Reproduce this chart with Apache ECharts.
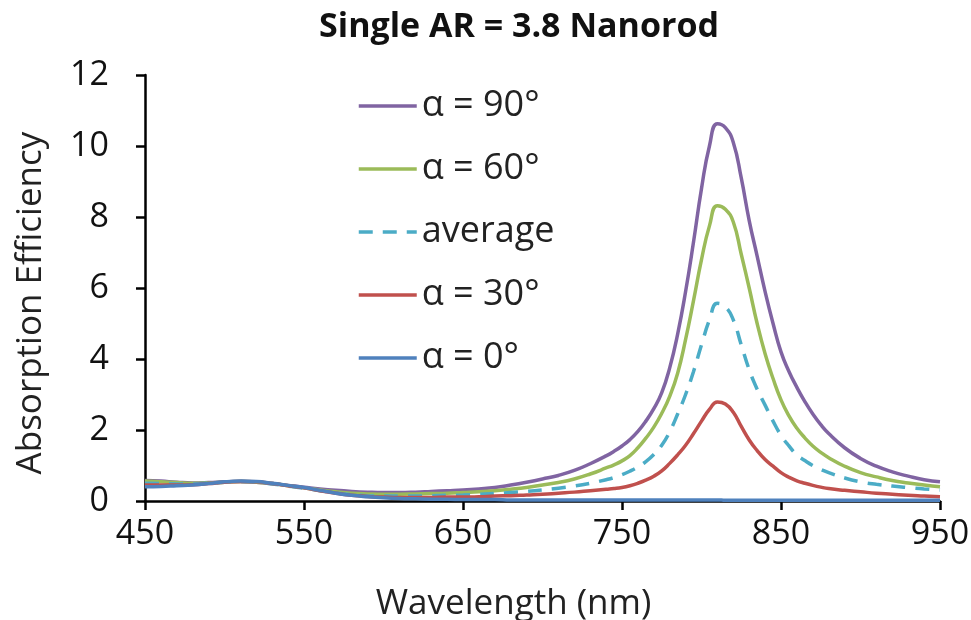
<!DOCTYPE html>
<html>
<head>
<meta charset="utf-8">
<script src="https://cdn.jsdelivr.net/npm/echarts@6/dist/echarts.min.js"></script>
<style>html,body{margin:0;padding:0;background:#fff}#c{width:971px;height:620px}</style>
</head>
<body>
<div id="c"></div>
<script>
const wavelengths = [450,460,470,480,490,500,510,520,530,540,550,560,570,580,590,600,610,620,630,640,650,660,670,680,690,700,710,720,730,740,
  745,750,755,760,765,770,775,780,785,790,795,800,805,810,815,820,825,830,835,840,845,850,855,860,865,870,875,880,
  890,900,910,920,930,940,950];
const alpha90 = [0.58,0.56,0.53,0.51,0.52,0.54,0.55,0.53,0.49,0.44,0.39,0.34,0.30,0.27,0.25,0.24,0.24,0.25,0.27,0.29,0.31,0.34,0.38,0.45,0.53,0.62,0.72,0.86,1.05,1.27,
  1.40,1.55,1.73,1.96,2.25,2.6,3.05,3.75,4.7,5.9,7.3,8.8,10.0,10.63,10.52,10.1,9.1,7.9,6.9,5.9,5.0,4.2,3.65,3.2,2.8,2.45,2.15,1.9,
  1.5,1.2,0.98,0.82,0.7,0.6,0.54];
const alpha60 = [0.56,0.54,0.52,0.50,0.51,0.53,0.55,0.53,0.49,0.43,0.37,0.31,0.26,0.22,0.20,0.19,0.19,0.20,0.21,0.22,0.24,0.26,0.29,0.33,0.38,0.45,0.52,0.62,0.76,0.93,
  1.02,1.13,1.28,1.5,1.77,2.08,2.47,2.95,3.6,4.55,5.65,6.8,7.75,8.32,8.22,7.86,6.95,6.0,5.0,4.15,3.45,2.85,2.4,2.05,1.78,1.55,1.37,1.22,
  0.98,0.8,0.68,0.58,0.51,0.45,0.40];
const average = [0.50,0.49,0.48,0.48,0.50,0.53,0.55,0.53,0.48,0.42,0.36,0.29,0.23,0.18,0.15,0.14,0.14,0.14,0.15,0.16,0.17,0.19,0.21,0.24,0.27,0.31,0.36,0.42,0.50,0.60,
  0.66,0.74,0.84,0.96,1.11,1.31,1.57,1.95,2.45,3.0,3.65,4.4,5.1,5.57,5.47,5.1,4.4,3.7,3.15,2.7,2.25,1.85,1.55,1.3,1.14,1.0,0.89,0.8,
  0.65,0.54,0.47,0.42,0.38,0.34,0.31];
const alpha30 = [0.45,0.45,0.45,0.46,0.49,0.53,0.55,0.54,0.49,0.43,0.37,0.29,0.22,0.16,0.13,0.11,0.10,0.10,0.10,0.11,0.11,0.12,0.14,0.15,0.17,0.19,0.22,0.25,0.29,0.33,
  0.35,0.38,0.43,0.5,0.59,0.7,0.85,1.06,1.3,1.57,1.9,2.25,2.58,2.79,2.73,2.5,2.1,1.72,1.42,1.17,0.98,0.8,0.67,0.57,0.5,0.44,0.39,0.35,
  0.30,0.26,0.22,0.19,0.16,0.14,0.12];
const alpha0 = [0.40,0.41,0.43,0.45,0.49,0.54,0.56,0.55,0.50,0.44,0.38,0.30,0.22,0.16,0.12,0.09,0.07,0.06,0.05,0.05,0.04,0.04,0.04,0.03,0.03,0.03,0.03,0.03,0.03,0.03,
  0.03,0.03,0.03,0.03,0.03,0.03,0.03,0.03,0.03,0.03,0.03,0.03,0.03,0.03,0.02,0.02,0.02,0.02,0.02,0.02,0.02,0.02,0.02,0.02,0.02,0.02,0.02,0.02,
  0.02,0.02,0.02,0.02,0.02,0.02,0.02];
const seriesNames = ['α = 90°','α = 60°','average','α = 30°','α = 0°'];
const seriesColors = ['#8064A2','#9BBB59','#4BACC6','#C0504D','#4F81BD'];
const seriesValues = [alpha90, alpha60, average, alpha30, alpha0];
const xTicks = [450,550,650,750,850,950];
const yTicks = [0,2,4,6,8,10,12];

const FONT = 'Open Sans';
const chart = echarts.init(document.getElementById('c'), null, {renderer:'canvas'});
chart.setOption({
  animation:false,
  backgroundColor:'#fff',
  title:{text:'Single AR = 3.8 Nanorod', left:514, textAlign:'center', top:5,
    textStyle:{fontFamily:FONT, fontWeight:'bold', fontSize:34, color:'#111'}},
  grid:{left:145, right:31, top:75, bottom:119, outerBoundsMode:'none', containLabel:false},
  legend:{orient:'vertical', left:357, top:86, padding:0, itemWidth:58, itemHeight:14, itemGap:23,
    data:seriesNames,
    itemStyle:{opacity:0},
    lineStyle:{width:3.5},
    textStyle:{fontFamily:FONT, fontSize:36, color:'#222', lineHeight:40}},
  xAxis:{type:'value', min:xTicks[0], max:xTicks[xTicks.length-1], interval:100,
    name:'Wavelength (nm)', nameLocation:'middle', nameGap:86,
    nameTextStyle:{fontFamily:FONT, fontSize:35, color:'#222', padding:[0,58,0,0]},
    axisLine:{show:true, lineStyle:{color:'#000', width:2.5}},
    axisTick:{show:true, inside:false, length:9, lineStyle:{color:'#000', width:2.5}},
    axisLabel:{fontFamily:FONT, fontSize:34, color:'#111', margin:16},
    splitLine:{show:false}},
  yAxis:{type:'value', min:yTicks[0], max:yTicks[yTicks.length-1], interval:2,
    name:'Absorption Efficiency', nameLocation:'middle', nameGap:96,
    nameTextStyle:{fontFamily:FONT, fontSize:35, color:'#222', padding:[0,30,0,0]},
    axisLine:{show:true, lineStyle:{color:'#000', width:2.5}},
    axisTick:{show:true, inside:false, length:9, lineStyle:{color:'#000', width:2.5}},
    axisLabel:{fontFamily:FONT, fontSize:34, color:'#111', margin:36},
    splitLine:{show:false}},
  series: seriesNames.map((n,i)=>({
    name:n, type:'line', symbol:'none', smooth:0.5,
    color:seriesColors[i],
    lineStyle:{color:seriesColors[i], width:3.5, type: n==='average' ? [14,10] : 'solid'},
    data: wavelengths.map((w,k)=>[w, seriesValues[i][k]])
  }))
});
</script>
</body>
</html>
